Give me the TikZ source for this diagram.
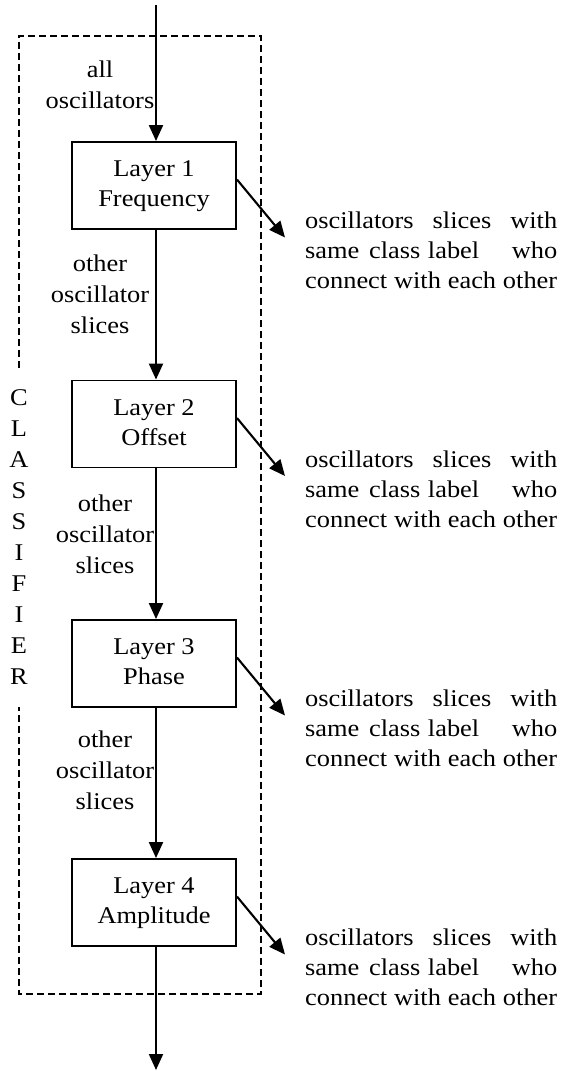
\documentclass[tikz,border=0pt]{standalone}
\usepackage{fontspec}
\setmainfont[FakeStretch=1.1]{Liberation Serif}
\usetikzlibrary{arrows.meta}
\begin{document}
\begin{tikzpicture}[x=1pt,y=-1pt,
  box/.style={draw,line width=1.9pt,minimum width=164pt,minimum height=87pt,inner sep=0pt,align=center,font=\fontsize{24}{30}\selectfont},
  lbl/.style={inner sep=0pt,align=center,font=\fontsize{24}{31}\selectfont},
  side/.style={inner sep=0pt,align=left,anchor=west,font=\fontsize{24}{30}\selectfont},
  flow/.style={line width=2.1pt,-{Triangle[length=16pt,width=14pt]}},
  frame/.style={line width=1.6pt,dash pattern=on 7pt off 4pt}]
\useasboundingbox (0,0) rectangle (561,1071);

% layer boxes
\node[box] (b1) at (154,185.5) {\strut Layer 1\\\strut Frequency};
\node[box] (b2) at (154,424) {\strut Layer 2\\\strut Offset};
\node[box] (b3) at (154,663.5) {\strut Layer 3\\\strut Phase};
\node[box] (b4) at (154,902.5) {\strut Layer 4\\\strut Amplitude};

% dashed classifier frame
\coordinate (fa) at (19,368);
\coordinate (fb) at (19,36);
\coordinate (fc) at (261,36);
\coordinate (fd) at (261,994);
\coordinate (fe) at (19,994);
\coordinate (ff) at (19,707);
\draw[frame] (fa) -- (fb) -- (fc) -- (fd) -- (fe) -- (ff);
\node[lbl] (cls) at (19,538.3)
  {\strut C\\\strut L\\\strut A\\\strut S\\\strut S\\\strut I\\\strut F\\\strut I\\\strut E\\\strut R};

% flow labels
\node[lbl] (l0) at (100,87) {\strut all\\\strut oscillators};
\node[lbl] (l1) at (100,296.5) {\strut other\\\strut oscillator\\\strut slices};
\node[lbl] (l2) at (105,536) {\strut other\\\strut oscillator\\\strut slices};
\node[lbl] (l3) at (105,772) {\strut other\\\strut oscillator\\\strut slices};

% vertical flow
\coordinate (in) at (156,5);
\coordinate (out) at (156,1070);
\draw[flow] (in) -- ([xshift=2pt]b1.north);
\draw[flow] ([xshift=2pt]b1.south) -- ([xshift=2pt]b2.north);
\draw[flow] ([xshift=2pt]b2.south) -- ([xshift=2pt]b3.north);
\draw[flow] ([xshift=2pt]b3.south) -- ([xshift=2pt]b4.north);
\draw[flow] ([xshift=2pt]b4.south) -- (out);

% side outputs
\foreach \i/\c in {1/185.5,2/424,3/663.5,4/902.5}{
  \coordinate (t\i) at (285,\c+52);
  \draw[flow] ([yshift=6pt]b\i.east) -- (t\i);
  \node[side] (r\i) at (305,\c+67)
    {\makebox[252pt][s]{\strut oscillators slices with}\\
     \makebox[252pt][s]{\strut same\hspace{3pt} class\hspace{1pt} label\hfill who}\\
     \makebox[252pt][s]{\strut connect with each other}};
}
\end{tikzpicture}
\end{document}
